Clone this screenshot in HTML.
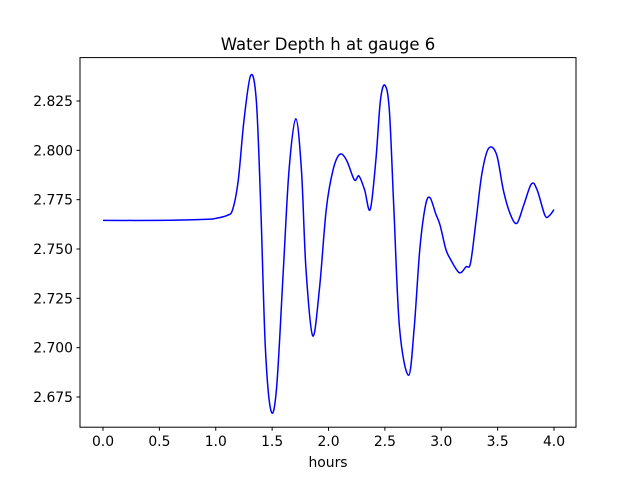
<!DOCTYPE html>
<html><head><meta charset="utf-8"><style>
body{margin:0;background:#fff}
svg text{font-family:"DejaVu Sans","Liberation Sans",sans-serif;fill:#000}
</style></head><body>
<svg id="chart" width="640" height="480" xmlns="http://www.w3.org/2000/svg">
<rect width="640" height="480" fill="#fff"/>
<text x="328" y="50" font-size="16.5" text-anchor="middle">Water Depth h at gauge 6</text>
<g id="xticks"></g>
<g id="yticks"></g>
<path id="line" fill="none" stroke="#0000ff" stroke-width="1.5"/>
<rect x="80" y="57.6" width="496" height="369.6" fill="none" stroke="#000" stroke-width="1"/>
<text x="328" y="467" font-size="13.9" text-anchor="middle">hours</text>
</svg>
<script>
const hours=[0,0.5,0.9,1.0,1.1,1.15,1.2,1.25,1.31,1.36,1.4,1.44,1.49,1.54,1.6,1.65,1.71,1.76,1.8,1.86,1.92,1.98,2.04,2.10,2.16,2.23,2.27,2.32,2.37,2.42,2.46,2.50,2.54,2.58,2.63,2.71,2.76,2.81,2.86,2.90,2.95,2.99,3.04,3.08,3.16,3.22,3.26,3.31,3.36,3.42,3.49,3.55,3.61,3.67,3.73,3.80,3.85,3.92,3.96,4.0];
const depth=[2.7645,2.7645,2.765,2.7655,2.767,2.770,2.785,2.815,2.838,2.825,2.77,2.70,2.668,2.68,2.74,2.79,2.816,2.79,2.74,2.706,2.73,2.77,2.79,2.798,2.795,2.785,2.787,2.78,2.770,2.795,2.825,2.833,2.82,2.77,2.71,2.686,2.71,2.75,2.772,2.776,2.768,2.762,2.75,2.745,2.738,2.741,2.743,2.765,2.788,2.801,2.798,2.780,2.768,2.763,2.772,2.783,2.78,2.767,2.767,2.770];
const xTicks=[0,0.5,1.0,1.5,2.0,2.5,3.0,3.5,4.0];
const yTicks=[2.675,2.700,2.725,2.750,2.775,2.800,2.825];
const X=v=>103+v*112.75;
const Y=v=>101-(v-2.825)*1973.3;
const NS="http://www.w3.org/2000/svg";
const xg=document.getElementById('xticks'),yg=document.getElementById('yticks');
xTicks.forEach(t=>{
 const l=document.createElementNS(NS,'line');
 
 
 l.setAttribute('x1',X(t));l.setAttribute('x2',X(t));l.setAttribute('y1',427.2);l.setAttribute('y2',430.7);l.setAttribute('stroke','#000');
 xg.appendChild(l);
 const tx=document.createElementNS(NS,'text');
 
 
 tx.setAttribute('x',X(t));tx.setAttribute('y',446);tx.setAttribute('font-size','13.9');tx.setAttribute('text-anchor','middle');
 tx.textContent=t.toFixed(1);xg.appendChild(tx);
});
yTicks.forEach(t=>{
 const l=document.createElementNS(NS,'line');
 
 
 l.setAttribute('x1',76.5);l.setAttribute('x2',80);l.setAttribute('y1',Y(t));l.setAttribute('y2',Y(t));l.setAttribute('stroke','#000');
 yg.appendChild(l);
 const tx=document.createElementNS(NS,'text');
 
 
 tx.setAttribute('x',73);tx.setAttribute('y',Y(t)+5);tx.setAttribute('font-size','13.9');tx.setAttribute('text-anchor','end');
 tx.textContent=t.toFixed(3);yg.appendChild(tx);
});
const P=hours.map((h,i)=>[X(h),Y(depth[i])]);
let d='M'+P[0][0]+','+P[0][1];
for(let i=0;i<P.length-1;i++){
 const p0=P[i-1]||P[i],p1=P[i],p2=P[i+1],p3=P[i+2]||P[i+1];
 const c1=[p1[0]+(p2[0]-p0[0])/6,p1[1]+(p2[1]-p0[1])/6];
 const c2=[p2[0]-(p3[0]-p1[0])/6,p2[1]-(p3[1]-p1[1])/6];
 d+=' C'+c1.join(',')+' '+c2.join(',')+' '+p2.join(',');
}
document.getElementById('line').setAttribute('d',d);
</script>
</body></html>
